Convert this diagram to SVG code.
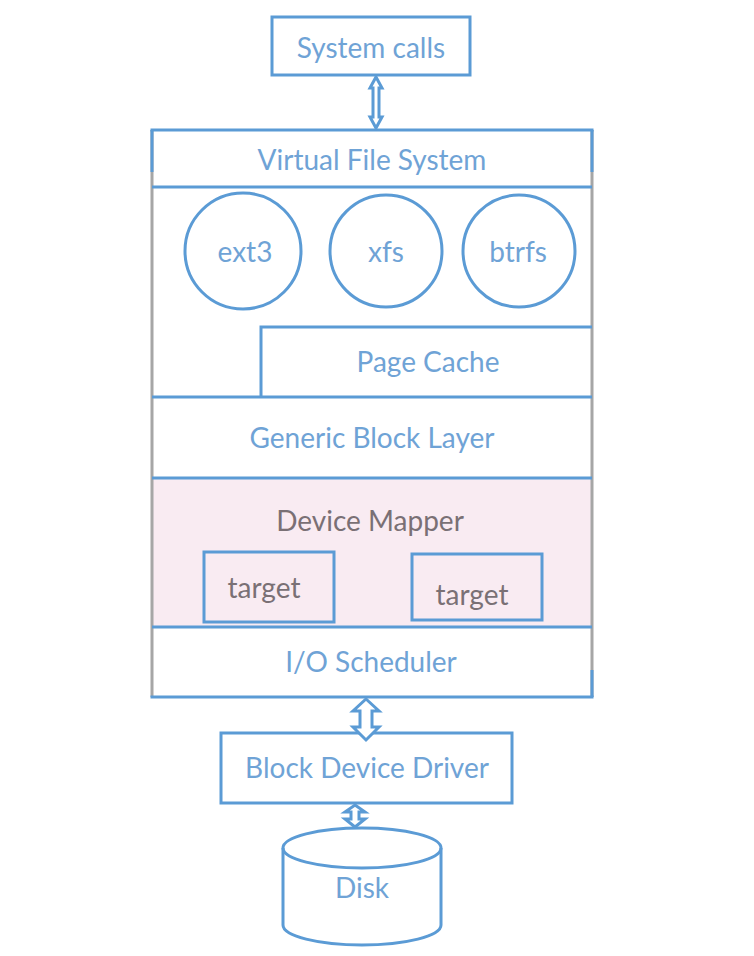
<svg xmlns="http://www.w3.org/2000/svg" width="754" height="956" viewBox="0 0 754 956">
<style>
.b{fill:none;stroke:#5b9bd5;stroke-width:3}
.g{fill:none;stroke:#a6a6a6;stroke-width:3}
.t{font-family:Lato,"Open Sans","Liberation Sans",sans-serif;font-size:28px;fill:#6fa3d6;text-anchor:middle;dominant-baseline:central}
.d{fill:#7a7075}
.arr{fill:#fff;stroke:#5b9bd5;stroke-width:3;stroke-linejoin:miter}
</style>
<rect width="754" height="956" fill="#fff"/>
<g id="syscalls">
<rect class="b" x="272" y="17" width="198" height="58" fill="#fff"/>
<text class="t" x="371" y="47">System calls</text>
</g>
<g id="kernel">
<rect x="152" y="478" width="440" height="149" fill="#f9ebf2"/>
<line class="g" x1="152" y1="130" x2="152" y2="697"/>
<line class="g" x1="592" y1="130" x2="592" y2="697"/>
<line class="b" x1="152" y1="130" x2="152" y2="172"/>
<line class="b" x1="592" y1="130" x2="592" y2="172"/>
<line class="b" x1="592" y1="670" x2="592" y2="697"/>
<line class="b" x1="150.5" y1="130" x2="593.5" y2="130"/>
<line class="b" x1="150.5" y1="697" x2="593.5" y2="697"/>
</g>
<g id="vfs">
<line class="b" x1="152" y1="187" x2="592" y2="187"/>
<text class="t" x="372" y="159">Virtual File System</text>
</g>
<g id="ext3">
<circle class="b" cx="243" cy="251" r="58"/>
<text class="t" x="245" y="251">ext3</text>
</g>
<g id="xfs">
<circle class="b" cx="386" cy="251" r="56"/>
<text class="t" x="386" y="251">xfs</text>
</g>
<g id="btrfs">
<circle class="b" cx="519" cy="251" r="56"/>
<text class="t" x="518" y="251">btrfs</text>
</g>
<g id="pagecache">
<polyline class="b" points="261,397 261,327 592,327"/>
<text class="t" x="428" y="361">Page Cache</text>
</g>
<g id="genericblock">
<line class="b" x1="152" y1="397" x2="592" y2="397"/>
<text class="t" x="372" y="437">Generic Block Layer</text>
</g>
<g id="devicemapper">
<line class="b" x1="152" y1="478" x2="592" y2="478"/>
<text class="t d" x="370" y="520">Device Mapper</text>
</g>
<g id="target1">
<rect class="b" x="204" y="552" width="130" height="70"/>
<text class="t d" x="264" y="587">target</text>
</g>
<g id="target2">
<rect class="b" x="412" y="554" width="130" height="66"/>
<text class="t d" x="472" y="594">target</text>
</g>
<g id="iosched">
<line class="b" x1="152" y1="627" x2="592" y2="627"/>
<text class="t" x="371" y="661">I/O Scheduler</text>
</g>
<g id="bdd">
<rect class="b" x="221" y="733" width="291" height="70" fill="#fff"/>
<text class="t" x="367" y="767">Block Device Driver</text>
</g>
<g id="disk">
<path class="b" d="M283,848 L283,925 A79,20 0 0 0 441,925 L441,848" fill="#fff"/>
<ellipse class="b" cx="362" cy="848" rx="79" ry="20" fill="#fff"/>
<text class="t" x="362" y="887">Disk</text>
</g>
<g id="connectors">
<polygon class="arr" points="376,77 382,88 379,88 379,117 382,117 376,128 370,117 373,117 373,88 370,88"/>
<polygon class="arr" points="366,699 379,711 372,711 372,727 379,727 366,740 353,727 360,727 360,711 353,711"/>
<polygon class="arr" points="355,805 365,812 359,812 359,819 365,819 355,827 345,819 351,819 351,812 345,812"/>
</g>
</svg>
